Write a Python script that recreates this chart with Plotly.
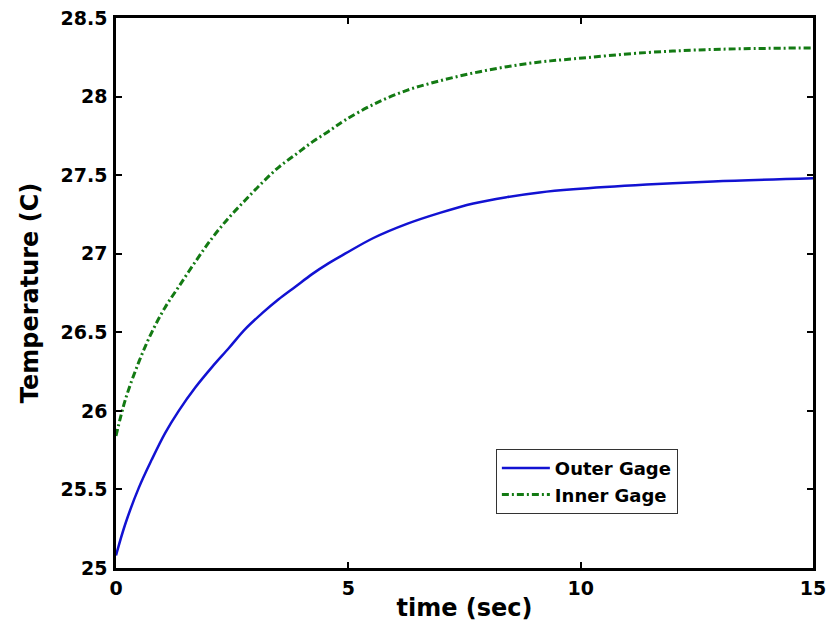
import plotly.graph_objects as go

# Gage temperature readings (time in seconds, temperature in C)
time_s = [0.0, 0.2, 0.49, 0.77, 1.06, 1.35, 1.71, 2.07, 2.43, 2.78, 3.14, 3.50,
          3.86, 4.22, 4.58, 4.93, 5.54, 6.26, 6.97, 7.69, 8.41, 9.12, 9.84,
          11.42, 12.85, 15.0]
outer_gage = [25.08, 25.28, 25.51, 25.69, 25.86, 26.00, 26.15, 26.28, 26.40, 26.52,
              26.62, 26.71, 26.79, 26.87, 26.94, 27.00, 27.10, 27.19, 27.26, 27.32,
              27.36, 27.39, 27.41, 27.44, 27.46, 27.48]
inner_gage = [25.84, 26.07, 26.31, 26.50, 26.66, 26.79, 26.95, 27.10, 27.23, 27.34,
              27.45, 27.55, 27.63, 27.71, 27.78, 27.85, 27.95, 28.04, 28.10, 28.15,
              28.19, 28.22, 28.24, 28.28, 28.30, 28.31]

x_ticks = [0, 5, 10, 15]
y_ticks = [25, 25.5, 26, 26.5, 27, 27.5, 28, 28.5]
y_tick_labels = ["25", "25.5", "26", "26.5", "27", "27.5", "28", "28.5"]

font_family = "DejaVu Sans, sans-serif"

fig = go.Figure()
fig.add_trace(go.Scatter(
    x=time_s, y=outer_gage, mode="lines", name="Outer Gage",
    line=dict(color="#1212d2", width=2.5, shape="spline", smoothing=1.0),
))
fig.add_trace(go.Scatter(
    x=time_s, y=inner_gage, mode="lines", name="Inner Gage",
    line=dict(color="#137a13", width=3, dash="7px,3px,2px,3px",
              shape="spline", smoothing=1.0),
))

axis_common = dict(
    showline=True, linecolor="black", linewidth=2.5, mirror="ticks",
    ticks="inside", ticklen=6, tickwidth=2, tickcolor="black",
    showgrid=False, zeroline=False, automargin=False,
    tickfont=dict(family=font_family, size=19, color="black", weight="bold"),
)

fig.update_layout(
    width=827, height=626,
    margin=dict(l=116, r=14, t=18, b=58),
    paper_bgcolor="white", plot_bgcolor="white",
    font=dict(family=font_family, color="black"),
    xaxis=dict(
        range=[0, 15], tickvals=x_ticks, ticklabelstandoff=1,
        title=dict(text="time (sec)", standoff=2,
                   font=dict(family=font_family, size=24, color="black", weight="bold")),
        **axis_common,
    ),
    yaxis=dict(
        range=[25, 28.5], tickvals=y_ticks, ticktext=y_tick_labels,
        ticklabelstandoff=2,
        title=dict(text="Temperature (C)", standoff=16,
                   font=dict(family=font_family, size=24, color="black", weight="bold")),
        **axis_common,
    ),
    legend=dict(
        x=0.545, y=0.2165, xanchor="left", yanchor="top",
        bgcolor="white", bordercolor="#333333", borderwidth=1,
        font=dict(family=font_family, size=18, color="black", weight="bold"),
        tracegroupgap=0, itemwidth=48,
    ),
    showlegend=True,
)

fig.write_html("out.html")
